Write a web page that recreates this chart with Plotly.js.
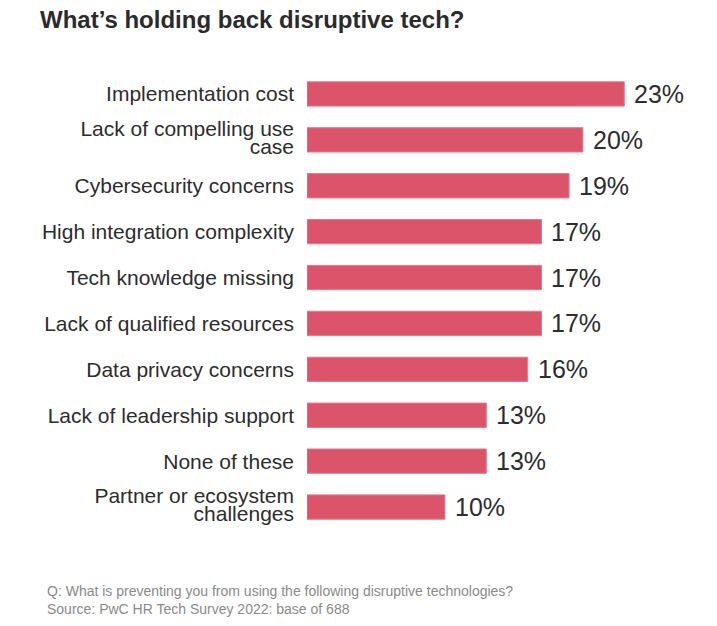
<!DOCTYPE html>
<html><head><meta charset="utf-8">
<script src="https://cdn.plot.ly/plotly-3.0.1.min.js"></script>
<style>html,body{margin:0;padding:0;background:#fff}</style>
</head><body><div id="c" style="width:717px;height:626px"></div>
<script>
const categories = ["Implementation cost","Lack of compelling use<br>case","Cybersecurity concerns","High integration complexity","Tech knowledge missing","Lack of qualified resources","Data privacy concerns","Lack of leadership support","None of these","Partner or ecosystem<br>challenges"];
const values = [23,20,19,17,17,17,16,13,13,10];
const valueLabels = values.map(v => v + "%");
const FONT = "Liberation Sans, Arial, Helvetica, sans-serif";
const annotations = values.map((v,i)=>({x:v,y:categories[i],xref:'x',yref:'y',text:valueLabels[i],showarrow:false,xanchor:'left',xshift:8,font:{family:FONT,size:25,color:'#2d2d2d'}}));
annotations.push({xref:'paper',yref:'paper',x:(45-307)/400,y:0,yshift:-51,xanchor:'left',yanchor:'top',align:'left',showarrow:false,
  text:"Q: What is preventing you from using the following disruptive technologies?<br>Source: PwC HR Tech Survey 2022: base of 688",
  font:{family:FONT,size:14,color:'#8a8a8a'}});
Plotly.newPlot('c',[{type:'bar',orientation:'h',x:values,y:categories,width:0.53,
  marker:{color:'#dc5469',line:{color:'#e07a8a',width:1}},hoverinfo:'none'}],{
  width:717,height:626,margin:{l:307,r:10,t:71,b:96},
  paper_bgcolor:'#fff',plot_bgcolor:'#fff',showlegend:false,
  title:{text:"<b>What’s holding back disruptive tech?</b>",x:40/717,xanchor:'left',y:1-20/626,yanchor:'middle',font:{family:FONT,size:24,color:'#2b2b2b'}},
  xaxis:{range:[0,29],visible:false,fixedrange:true},
  yaxis:{autorange:false,range:[9.5,-0.5],showgrid:false,zeroline:false,showline:false,ticks:'',ticklabelstandoff:12,
    tickfont:{family:FONT,size:21,color:'#2d2d2d'}},
  annotations:annotations
},{displayModeBar:false,staticPlot:true}).then(gd=>{
  gd.querySelectorAll('.ytick text').forEach(t=>{
    const lines = t.querySelectorAll('tspan.line');
    if(lines.length===2){
      const d0 = parseFloat(lines[0].getAttribute('dy')||'0');
      lines[0].setAttribute('dy',(d0+0.13)+'em');
      lines[1].setAttribute('dy','0.96em');
    }
  });
});
</script></body></html>
